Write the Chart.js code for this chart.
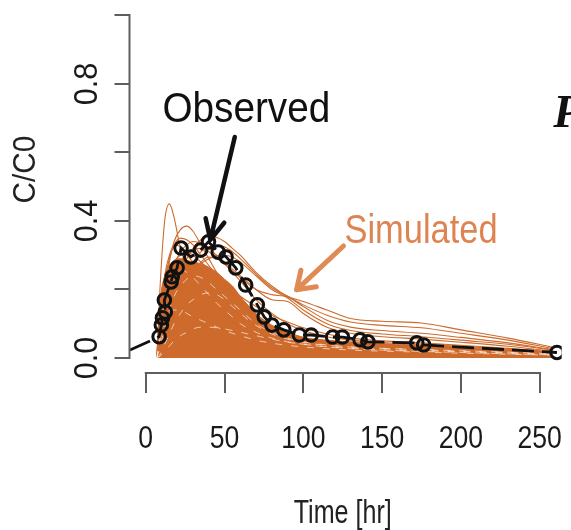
<!DOCTYPE html>
<html>
<head>
<meta charset="utf-8">
<title>C/C0 vs Time</title>
<script src="https://cdn.jsdelivr.net/npm/chart.js@4.4.1/dist/chart.umd.min.js"></script>
<style>
  html, body { margin: 0; padding: 0; background: #fff; }
  canvas { display: block; }
</style>
</head>
<body>
<canvas id="pk-chart" width="571" height="530"></canvas>
<script>
// Time grid shared by the simulated profiles (hr)
const SIM_TIMES = [7, 9, 12, 15, 18, 22, 26, 30, 35, 40, 45, 50, 55, 60, 70, 80, 90, 100, 115, 130, 150, 175, 200, 230, 258];

// Upper edge of the dense band of simulated profiles
const SIM_BAND = [0, 0.16, 0.24, 0.27, 0.285, 0.29, 0.285, 0.28, 0.275, 0.265, 0.25, 0.23, 0.21, 0.18, 0.13, 0.095, 0.075, 0.06, 0.052, 0.047, 0.042, 0.037, 0.032, 0.025, 0.018];

// Individual simulated profiles standing out above the band
const SIM_A = [0, 0.2, 0.4, 0.45, 0.41, 0.32, 0.27, 0.23, 0.19, 0.16, 0.14, 0.12, 0.105, 0.09, 0.07, 0.055, 0.045, 0.038, 0.031, 0.026, 0.021, 0.016, 0.012, 0.009, 0.006];
const SIM_B = [0, 0.07, 0.19, 0.28, 0.34, 0.375, 0.385, 0.37, 0.33, 0.29, 0.25, 0.22, 0.19, 0.165, 0.125, 0.095, 0.075, 0.06, 0.047, 0.038, 0.03, 0.023, 0.018, 0.013, 0.01];
const SIM_C = [0, 0.03, 0.08, 0.14, 0.19, 0.25, 0.29, 0.32, 0.345, 0.355, 0.352, 0.34, 0.32, 0.3, 0.25, 0.21, 0.18, 0.165, 0.14, 0.115, 0.107, 0.102, 0.082, 0.058, 0.032];
const SIM_D = [0, 0.02, 0.06, 0.11, 0.16, 0.21, 0.25, 0.28, 0.31, 0.325, 0.33, 0.325, 0.31, 0.29, 0.245, 0.205, 0.18, 0.155, 0.125, 0.105, 0.095, 0.088, 0.072, 0.052, 0.028];
const SIM_E = [0, 0.04, 0.11, 0.18, 0.23, 0.28, 0.305, 0.318, 0.32, 0.31, 0.295, 0.275, 0.255, 0.235, 0.2, 0.185, 0.178, 0.15, 0.11, 0.09, 0.08, 0.072, 0.06, 0.044, 0.025];
const SIM_F = [0, 0.015, 0.045, 0.09, 0.13, 0.18, 0.22, 0.25, 0.275, 0.29, 0.298, 0.3, 0.295, 0.28, 0.24, 0.2, 0.175, 0.14, 0.1, 0.08, 0.07, 0.062, 0.052, 0.04, 0.023];
const SIM_G = [0, 0.06, 0.15, 0.22, 0.27, 0.31, 0.33, 0.34, 0.335, 0.32, 0.3, 0.28, 0.26, 0.24, 0.2, 0.17, 0.165, 0.13, 0.09, 0.072, 0.062, 0.055, 0.046, 0.034, 0.02];
const SIM_H = [0, 0.08, 0.18, 0.24, 0.28, 0.3, 0.31, 0.3, 0.28, 0.26, 0.24, 0.22, 0.2, 0.18, 0.15, 0.125, 0.105, 0.088, 0.07, 0.058, 0.05, 0.044, 0.037, 0.028, 0.017];
const SIM_I = [0, 0.12, 0.24, 0.3, 0.33, 0.325, 0.3, 0.28, 0.25, 0.22, 0.19, 0.165, 0.145, 0.125, 0.095, 0.075, 0.062, 0.052, 0.042, 0.035, 0.03, 0.025, 0.02, 0.015, 0.01];
const SIM_J = [0, 0.02, 0.05, 0.09, 0.13, 0.18, 0.22, 0.25, 0.28, 0.295, 0.29, 0.275, 0.25, 0.225, 0.17, 0.13, 0.1, 0.08, 0.062, 0.052, 0.045, 0.04, 0.034, 0.026, 0.016];
const SIM_K = [0, 0.1, 0.22, 0.29, 0.33, 0.35, 0.345, 0.33, 0.3, 0.27, 0.24, 0.21, 0.185, 0.16, 0.12, 0.092, 0.072, 0.058, 0.045, 0.037, 0.03, 0.025, 0.02, 0.015, 0.01];
const SIM_PROFILES = [SIM_A, SIM_B, SIM_C, SIM_D, SIM_E, SIM_F, SIM_G, SIM_H, SIM_I, SIM_J, SIM_K];

// Thin gaps left between overlapping profiles inside the band
const GAP_1 = [0, 0.03, 0.09, 0.14, 0.18, 0.21, 0.23, 0.24, 0.235, 0.22, 0.2, 0.18, 0.16, 0.14, 0.1, 0.075, 0.058, 0.047, 0.038, 0.032, 0.028, 0.024, 0.02, 0.016, 0.012];
const GAP_2 = [0, 0.01, 0.04, 0.07, 0.1, 0.13, 0.155, 0.17, 0.185, 0.19, 0.185, 0.17, 0.15, 0.13, 0.095, 0.07, 0.055, 0.045, 0.037, 0.032, 0.028, 0.025, 0.021, 0.017, 0.012];
const GAP_3 = [0, 0.05, 0.1, 0.13, 0.14, 0.14, 0.13, 0.12, 0.11, 0.1, 0.09, 0.08, 0.072, 0.065, 0.052, 0.043, 0.037, 0.032, 0.027, 0.023, 0.02, 0.017, 0.014, 0.011, 0.008];
const GAP_4 = [0, 0.005, 0.02, 0.035, 0.05, 0.065, 0.075, 0.085, 0.09, 0.09, 0.088, 0.085, 0.08, 0.075, 0.065, 0.055, 0.046, 0.04, 0.033, 0.028, 0.024, 0.021, 0.018, 0.014, 0.01];
const GAP_5 = [0, 0.06, 0.16, 0.22, 0.25, 0.26, 0.25, 0.235, 0.21, 0.185, 0.16, 0.14, 0.12, 0.1, 0.075, 0.058, 0.047, 0.04, 0.032, 0.027, 0.023, 0.019, 0.016, 0.012, 0.009];
const SIM_GAPS = [GAP_1, GAP_2, GAP_3, GAP_4, GAP_5];

// Observed concentrations
const OBS_TIMES = [8.5, 9.9, 10.6, 12.4, 11.8, 16.1, 16.8, 19.9, 22.4, 28.6, 34.8, 39.8, 46, 51, 57.1, 63.4, 70.8, 75.2, 80.1, 87.6, 97.5, 105, 118.6, 124.8, 136, 141, 172, 176.4, 261];
const OBS_CONC = [0.062, 0.096, 0.117, 0.134, 0.169, 0.222, 0.237, 0.263, 0.321, 0.295, 0.315, 0.339, 0.309, 0.295, 0.263, 0.213, 0.155, 0.12, 0.096, 0.082, 0.067, 0.067, 0.061, 0.061, 0.053, 0.047, 0.044, 0.038, 0.016];
// observed trace enters from the left of t = 0
const OBS_LEAD_IN = { x: -10, y: 0.023 };

const X_TICKS = [0, 50, 100, 150, 200, 250];
const X_TICK_LABELS = ['0', '50', '100', '150', '200', '250'];
const Y_TICKS = [0, 0.2, 0.4, 0.6, 0.8, 1.0];
const Y_LABEL_VALUES = [0, 0.4, 0.8];
const Y_TICK_LABELS = ['0.0', '0.4', '0.8'];

const SIM_COLOR = '#ce6a2b';
const AXIS_COLOR = '#5e5e5e';

function toPoints(xs, ys) {
    return xs.map((x, i) => ({ x: x, y: ys[i] }));
}

// Text with horizontal squeeze (along the text direction)
function drawText(ctx, str, x, y, opts) {
    ctx.save();
    ctx.translate(x, y);
    if (opts.rotate) ctx.rotate(opts.rotate);
    ctx.scale(opts.sx || 1, 1);
    ctx.font = opts.font;
    ctx.fillStyle = opts.color;
    ctx.textAlign = opts.align || 'center';
    ctx.textBaseline = 'alphabetic';
    ctx.fillText(str, 0, 0);
    ctx.restore();
}

function drawArrow(ctx, x0, y0, x1, y1, opts) {
    const ang = Math.atan2(y1 - y0, x1 - x0);
    ctx.save();
    ctx.strokeStyle = opts.color;
    ctx.lineWidth = opts.width;
    ctx.lineCap = 'round';
    ctx.lineJoin = 'round';
    ctx.beginPath();
    ctx.moveTo(x0, y0);
    ctx.lineTo(x1, y1);
    ctx.moveTo(x1 - opts.head * Math.cos(ang - opts.spread), y1 - opts.head * Math.sin(ang - opts.spread));
    ctx.lineTo(x1, y1);
    ctx.lineTo(x1 - opts.head * Math.cos(ang + opts.spread), y1 - opts.head * Math.sin(ang + opts.spread));
    ctx.stroke();
    ctx.restore();
}

// R-style axes plus the annotations, all placed through the chart scales
const rStylePlot = {
    id: 'rStylePlot',
    afterDraw(chart) {
        const { ctx, chartArea, scales: { x, y } } = chart;
        const font = (size) => size + 'px "Liberation Sans", Arial, sans-serif';

        ctx.save();
        ctx.strokeStyle = AXIS_COLOR;
        ctx.lineWidth = 2;
        ctx.lineCap = 'butt';

        // y axis
        const ax = chartArea.left - 0.5;
        ctx.beginPath();
        ctx.moveTo(ax, y.getPixelForValue(Y_TICKS[0]) + 1);
        ctx.lineTo(ax, y.getPixelForValue(Y_TICKS[Y_TICKS.length - 1]) - 1);
        Y_TICKS.forEach(v => {
            const py = Math.round(y.getPixelForValue(v));
            ctx.moveTo(ax + 1, py);
            ctx.lineTo(ax - 15, py);
        });
        ctx.stroke();

        // x axis
        const ay = chartArea.bottom + 1;
        ctx.beginPath();
        ctx.moveTo(x.getPixelForValue(X_TICKS[0]) - 1, ay);
        ctx.lineTo(x.getPixelForValue(X_TICKS[X_TICKS.length - 1]) + 1, ay);
        X_TICKS.forEach(v => {
            const px = Math.round(x.getPixelForValue(v));
            ctx.moveTo(px, ay - 1);
            ctx.lineTo(px, ay + 20);
        });
        ctx.stroke();
        ctx.restore();

        X_TICKS.forEach((v, i) => {
            drawText(ctx, X_TICK_LABELS[i], x.getPixelForValue(v), ay + 75, { font: font(32), sx: 0.83, color: '#1a1a1a' });
        });
        Y_LABEL_VALUES.forEach((v, i) => {
            drawText(ctx, Y_TICK_LABELS[i], ax - 33, y.getPixelForValue(v), { font: font(33), sx: 0.93, color: '#1a1a1a', rotate: -Math.PI / 2 });
        });

        // axis titles
        drawText(ctx, 'Time [hr]', x.getPixelForValue(125), ay + 150, { font: font(33), sx: 0.76, color: '#222' });
        drawText(ctx, 'C/C0', 35, y.getPixelForValue(0.55), { font: font(31), sx: 0.96, color: '#222', rotate: -Math.PI / 2 });

        // labels and arrows
        drawText(ctx, 'Observed', x.getPixelForValue(10.6), y.getPixelForValue(0.689), { font: font(43), sx: 0.9, color: '#111', align: 'left' });
        drawArrow(ctx, x.getPixelForValue(56.5), y.getPixelForValue(0.645), x.getPixelForValue(41), y.getPixelForValue(0.345),
            { color: '#111', width: 4.5, head: 22, spread: 0.45 });

        drawText(ctx, 'Simulated', x.getPixelForValue(126.1), y.getPixelForValue(0.336), { font: font(41), sx: 0.84, color: '#dd8452', align: 'left' });
        drawArrow(ctx, x.getPixelForValue(125.5), y.getPixelForValue(0.327), x.getPixelForValue(95.7), y.getPixelForValue(0.199),
            { color: '#e08a55', width: 5, head: 20, spread: 0.6 });

        // panel letter running off the right edge
        drawText(ctx, 'P', x.getPixelForValue(258.6), y.getPixelForValue(0.674), { font: 'italic bold 46px "Liberation Serif", serif', color: '#111', align: 'left' });
    }
};

const datasets = [];

datasets.push({
    label: 'Observed',
    data: toPoints(OBS_TIMES, OBS_CONC),
    showLine: false,
    pointRadius: 6.3,
    pointBorderWidth: 3,
    pointBorderColor: '#111',
    pointBackgroundColor: 'rgba(0,0,0,0)',
    order: 0
});

datasets.push({
    label: 'Observed trace',
    data: [OBS_LEAD_IN].concat(toPoints(OBS_TIMES, OBS_CONC)),
    borderColor: '#111',
    borderWidth: 2.8,
    borderDash: [22, 8],
    pointRadius: 0,
    tension: 0,
    fill: false,
    order: 1
});

SIM_GAPS.forEach((profile, i) => {
    datasets.push({
        label: 'gap ' + (i + 1),
        data: toPoints(SIM_TIMES, profile),
        borderColor: 'rgba(255,246,236,0.75)',
        borderWidth: 0.9,
        borderDash: [7, 9],
        pointRadius: 0,
        cubicInterpolationMode: 'monotone',
        fill: false,
        order: 2
    });
});

SIM_PROFILES.forEach((profile, i) => {
    datasets.push({
        label: 'Simulated ' + (i + 1),
        data: toPoints(SIM_TIMES, profile),
        borderColor: SIM_COLOR,
        borderWidth: 1.1,
        pointRadius: 0,
        cubicInterpolationMode: 'monotone',
        fill: false,
        order: 3
    });
});

datasets.push({
    label: 'Simulated band',
    data: toPoints(SIM_TIMES, SIM_BAND),
    borderColor: SIM_COLOR,
    borderWidth: 1,
    backgroundColor: SIM_COLOR,
    pointRadius: 0,
    cubicInterpolationMode: 'monotone',
    fill: 'origin',
    order: 4
});

new Chart(document.getElementById('pk-chart').getContext('2d'), {
    type: 'line',
    data: { datasets: datasets },
    options: {
        responsive: false,
        animation: false,
        events: [],
        layout: { padding: { left: 130, right: 0, top: 10, bottom: 158 } },
        plugins: {
            legend: { display: false },
            tooltip: { enabled: false }
        },
        scales: {
            x: { type: 'linear', min: -10, max: 264, display: false },
            y: { type: 'linear', min: -0.041, max: 1.016, display: false }
        }
    },
    plugins: [rStylePlot]
});
</script>
</body>
</html>
